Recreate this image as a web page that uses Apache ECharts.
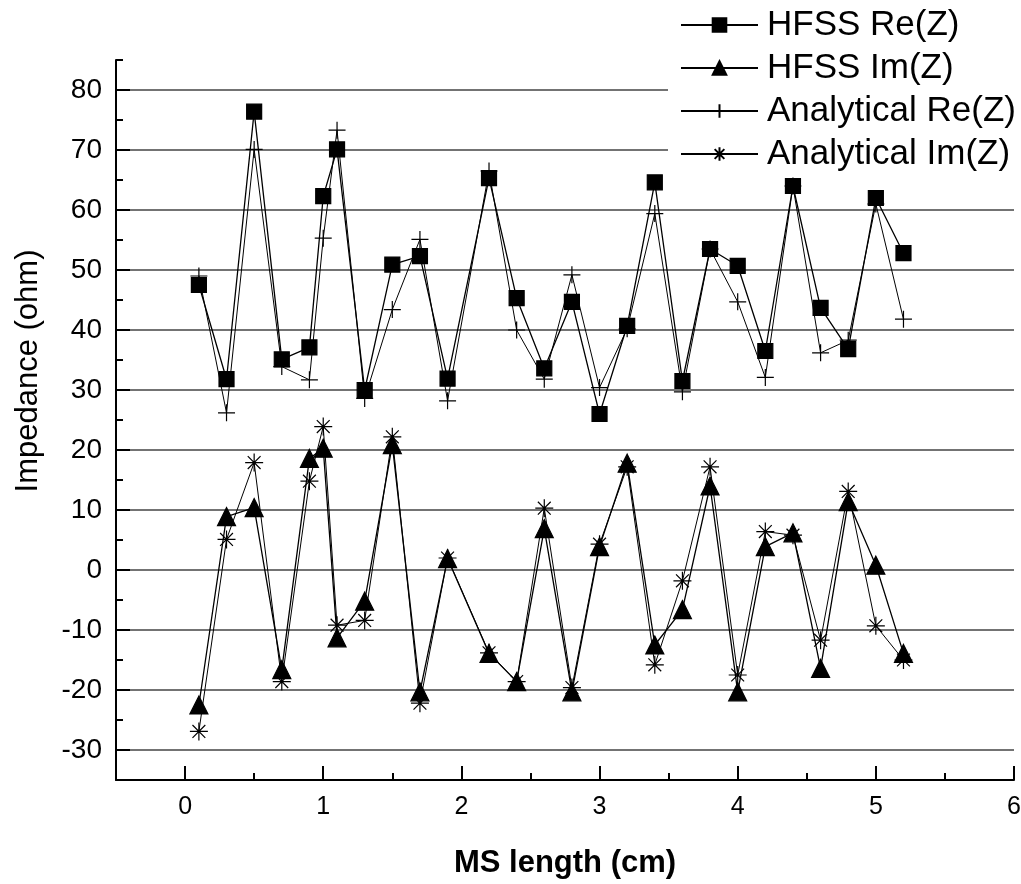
<!DOCTYPE html>
<html>
<head>
<meta charset="utf-8">
<script src="https://cdn.jsdelivr.net/npm/echarts@6/dist/echarts.min.js"></script>
<style>
  html, body { margin: 0; padding: 0; background: #fff; }
  #chart { width: 1021px; height: 884px; }
</style>
</head>
<body>
<div id="chart"></div>
<script>
// MS length (cm)
const msLength = [0.1, 0.3, 0.5, 0.7, 0.9, 1.0, 1.1, 1.3, 1.5, 1.7, 1.9, 2.2, 2.4, 2.6, 2.8,
  3.0, 3.2, 3.4, 3.6, 3.8, 4.0, 4.2, 4.4, 4.6, 4.8, 5.0, 5.2];

const hfssRe = [47.5, 31.8, 76.4, 35.1, 37.1, 62.3, 70.1, 30.0, 50.9, 52.3, 31.9, 65.3, 45.3, 33.6, 44.7,
  26.0, 40.7, 64.6, 31.5, 53.5, 50.7, 36.5, 64.0, 43.7, 36.8, 62.0, 52.8];
const hfssIm = [-22.5, 8.9, 10.4, -16.6, 18.6, 20.3, -11.3, -5.2, 20.9, -20.3, 1.9, -13.9, -18.6, 6.9, -20.3,
  3.9, 17.8, -12.5, -6.6, 14.0, -20.3, 3.9, 6.2, -16.4, 11.4, 0.8, -13.9];
const anaRe = [49.0, 26.2, 70.1, 33.9, 31.7, 55.3, 73.3, 28.6, 43.4, 55.1, 28.2, 66.5, 40.0, 31.8, 49.2,
  30.4, 40.2, 59.4, 29.7, 53.5, 44.7, 32.1, 64.0, 36.2, 38.3, 61.0, 41.8];
const anaIm = [-26.9, 5.1, 17.9, -18.6, 14.8, 23.9, -9.2, -8.4, 22.2, -22.2, 2.0, -13.8, -18.6, 10.3, -19.6,
  4.3, 17.2, -15.8, -1.8, 17.2, -17.5, 6.4, 5.8, -11.7, 13.1, -9.3, -15.0];

const xMajor = [0, 1, 2, 3, 4, 5, 6];
const yMajor = [-30, -20, -10, 0, 10, 20, 30, 40, 50, 60, 70, 80];

const FONT = "'Liberation Sans', Arial, sans-serif";
const crossPath = 'path://M0,8H16M8,0V16';
const starPath = 'path://M8,0V16M0,8H16M2.3,2.3L13.7,13.7M13.7,2.3L2.3,13.7';

const chart = echarts.init(document.getElementById('chart'));

function pairs(vals) {
  return msLength.map((x, i) => [x, vals[i]]);
}

function makeSeries(name, vals, symbol, size, lw, z) {
  return {
    name: name,
    type: 'line',
    data: pairs(vals),
    symbol: symbol,
    symbolSize: size,
    showAllSymbol: true,
    z: z,
    lineStyle: { color: '#000', width: lw },
    itemStyle: { color: '#000', borderColor: '#000', borderWidth: 1.2 },
    emphasis: { disabled: true }
  };
}

chart.setOption({
  backgroundColor: '#fff',
  animation: false,
  textStyle: { fontFamily: FONT, color: '#000' },
  grid: { left: 116, right: 7, top: 60, bottom: 104, outerBoundsMode: 'none' },
  legend: {
    orient: 'vertical',
    left: 668,
    top: 3,
    padding: [4, 6, 4, 12],
    backgroundColor: '#fff',
    itemWidth: 77,
    itemHeight: 17,
    itemGap: 7,
    z: 10,
    textStyle: { fontFamily: FONT, fontSize: 35, color: '#000', lineHeight: 36, padding: [0, 0, 0, 4] },
    data: ['HFSS Re(Z)', 'HFSS Im(Z)', 'Analytical Re(Z)', 'Analytical Im(Z)']
  },
  xAxis: [{
    type: 'value',
    min: -0.5,
    max: 6,
    name: 'MS length (cm)',
    nameLocation: 'middle',
    nameGap: 68,
    nameTextStyle: { fontFamily: FONT, fontSize: 31, fontWeight: 'bold', color: '#000' },
    axisLine: { show: true, onZero: false, lineStyle: { color: '#000', width: 2 } },
    axisTick: { show: true, inside: true, length: 14, customValues: xMajor, lineStyle: { color: '#000', width: 2 } },
    axisLabel: { customValues: xMajor, fontSize: 25, color: '#000', margin: 15, fontFamily: FONT },
    splitLine: { show: false }
  }, {
    type: 'value',
    min: -0.5,
    max: 6,
    interval: 0.5,
    position: 'bottom',
    axisLine: { show: false, onZero: false },
    axisTick: { show: true, inside: true, length: 7, lineStyle: { color: '#000', width: 2 } },
    axisLabel: { show: false },
    splitLine: { show: false }
  }],
  yAxis: [{
    type: 'value',
    min: -35,
    max: 85,
    name: 'Impedance (ohm)',
    nameLocation: 'middle',
    nameGap: 72,
    nameTextStyle: { fontFamily: FONT, fontSize: 31, color: '#000', padding: [0, 0, 0, 98] },
    axisLine: { show: true, onZero: false, lineStyle: { color: '#000', width: 2 } },
    axisTick: { show: true, inside: true, length: 14, customValues: yMajor, lineStyle: { color: '#000', width: 2 } },
    axisLabel: { customValues: yMajor, fontSize: 28, color: '#000', margin: 14, fontFamily: FONT },
    splitLine: { show: true, lineStyle: { color: '#444', width: 1.5 } }
  }, {
    type: 'value',
    min: -35,
    max: 85,
    interval: 5,
    position: 'left',
    axisLine: { show: false, onZero: false },
    axisTick: { show: true, inside: true, length: 7, lineStyle: { color: '#000', width: 2 } },
    axisLabel: { show: false },
    splitLine: { show: false }
  }],
  series: [
    makeSeries('Analytical Im(Z)', anaIm, starPath, 18, 1, 2),
    makeSeries('Analytical Re(Z)', anaRe, crossPath, 17, 1, 2),
    makeSeries('HFSS Im(Z)', hfssIm, 'triangle', 18, 1.3, 3),
    makeSeries('HFSS Re(Z)', hfssRe, 'rect', 15, 1.3, 4)
  ]
});
</script>
</body>
</html>
